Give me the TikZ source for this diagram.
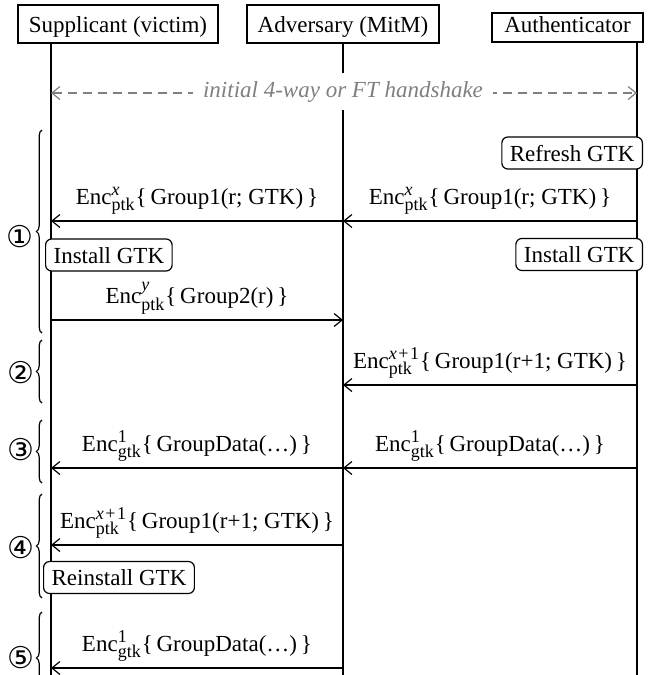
\documentclass[tikz,border=0pt]{standalone}
\usepackage{fontspec}
\setmainfont{Liberation Serif}
\newfontfamily\circfont{DejaVu Sans}
\usetikzlibrary{arrows.meta,decorations.pathreplacing}
\definecolor{hsgray}{gray}{0.5}
\newcommand\ssfont{\fontsize{9}{10}\selectfont}
\newcommand\encp[1]{Enc$^{\hbox{\ssfont #1}}_{\hbox{\ssfont ptk}}$}
\newcommand\encg[1]{Enc$^{\hbox{\ssfont #1}}_{\hbox{\ssfont gtk}}$}
\newcommand\xpo{{\itshape x}\kern0.8pt+\kern0.8pt1}
\begin{document}
\begin{tikzpicture}[x=0.5pt,y=-0.5pt,
  font=\fontsize{11.5}{13.8}\selectfont,
  line width=0.6pt,
  actor/.style={draw, anchor=base, inner xsep=2pt, inner ysep=1.5pt},
  msg/.style={-{Straight Barb[length=4pt,width=6.5pt]}},
  lbl/.style={midway, anchor=base, yshift=8.5pt, inner sep=0pt},
  actbox/.style={draw, fill=white, rounded corners=3pt, text height=8pt, text depth=0pt, inner xsep=4pt, inner ysep=4pt},
  hs/.style={draw=hsgray, dash pattern=on 4.5pt off 3pt, {Straight Barb[length=4pt,width=6.5pt]}-{Straight Barb[length=4pt,width=6.5pt]}},
  hslbl/.style={fill=white, text=hsgray, font=\fontsize{11.5}{13.8}\selectfont\itshape, inner xsep=5pt, inner ysep=0pt, minimum height=18.5pt},
  brc/.style={decorate, decoration={brace, amplitude=2.8pt}},
  num/.style={font=\fontsize{15}{17}\circfont, inner sep=0pt}
]
\useasboundingbox (0,0) rectangle (651,675);
\clip (0,0) rectangle (651,675);

% actors
\node[actor, minimum width=100pt, text height=12pt, text depth=4pt] (sup) at (118,32) {Supplicant (victim)};
\node[actor, minimum width=96pt, text height=12pt, text depth=4pt] (adv) at (343,32) {Adversary (MitM)};
\node[actor, minimum width=75.5pt, text height=8pt, text depth=3.5pt] (aut) at (567.5,32) {Authenticator};

% lifelines
\coordinate (sx) at (51,680);
\coordinate (ax) at (343,680);
\coordinate (tx) at (637,680);
\draw (sx |- sup.south) -- (sx);
\draw (ax |- adv.south) -- (ax);
\draw (tx |- aut.south) -- (tx);

% initial handshake
\coordinate (hsL) at (51,93);
\coordinate (hsR) at (637,93);
\draw[hs] (hsL) -- (hsR);
\node[hslbl] (hsl) at (343,91.5) {initial 4-way or FT handshake};

% message end points
\coordinate (t1) at (637,221); \coordinate (a1) at (343,221); \coordinate (s1) at (51,221);
\coordinate (s3) at (51,320);  \coordinate (a3) at (343,320);
\coordinate (t4) at (637,385); \coordinate (a4) at (343,385);
\coordinate (t5) at (637,468); \coordinate (a5) at (343,468); \coordinate (s5) at (51,468);
\coordinate (a6) at (343,545); \coordinate (s6) at (51,545);
\coordinate (a7) at (343,668); \coordinate (s7) at (51,668);

% actions
\node[actbox, anchor=east] (rf) at (643,153) {Refresh GTK};
\node[actbox, anchor=east] (inA) at (643,254.5) {Install GTK};
\node[actbox, anchor=west] (inS) at (45,255) {Install GTK};
\node[actbox, anchor=west] (reS) at (43,577.5) {Reinstall GTK};

% messages
\draw[msg] (t1) -- node[lbl] (l1) {\encp{\itshape x}\{\,Group1(r; GTK)\,\}} (a1);
\draw[msg] (a1) -- node[lbl] (l2) {\encp{\itshape x}\{\,Group1(r; GTK)\,\}} (s1);
\draw[msg] (s3) -- node[lbl] (l3) {\encp{\itshape y}\{\,Group2(r)\,\}} (a3);
\draw[msg] (t4) -- node[lbl] (l4) {\encp{\xpo}\{\,Group1(r+1; GTK)\,\}} (a4);
\draw[msg] (t5) -- node[lbl] (l5) {\encg{1}\{\,GroupData(\ldots)\,\}} (a5);
\draw[msg] (a5) -- node[lbl] (l6) {\encg{1}\{\,GroupData(\ldots)\,\}} (s5);
\draw[msg] (a6) -- node[lbl] (l7) {\encp{\xpo}\{\,Group1(r+1; GTK)\,\}} (s6);
\draw[msg] (a7) -- node[lbl] (l8) {\encg{1}\{\,GroupData(\ldots)\,\}} (s7);

% phase braces
\coordinate (b1a) at (42,333); \coordinate (b1b) at (42,130);
\coordinate (b2a) at (42,403); \coordinate (b2b) at (42,340);
\coordinate (b3a) at (42,483); \coordinate (b3b) at (42,420);
\coordinate (b4a) at (42,598); \coordinate (b4b) at (42,494);
\coordinate (b5a) at (42,704); \coordinate (b5b) at (42,612);
\draw[brc] (b1a) -- (b1b);
\draw[brc] (b2a) -- (b2b);
\draw[brc] (b3a) -- (b3b);
\draw[brc] (b4a) -- (b4b);
\draw[brc] (b5a) -- (b5b);
\node[num] (n1) at (20,237) {①};
\node[num] (n2) at (21,373) {②};
\node[num] (n3) at (21,450) {③};
\node[num] (n4) at (21,548) {④};
\node[num] (n5) at (21,658) {⑤};
\end{tikzpicture}
\end{document}
